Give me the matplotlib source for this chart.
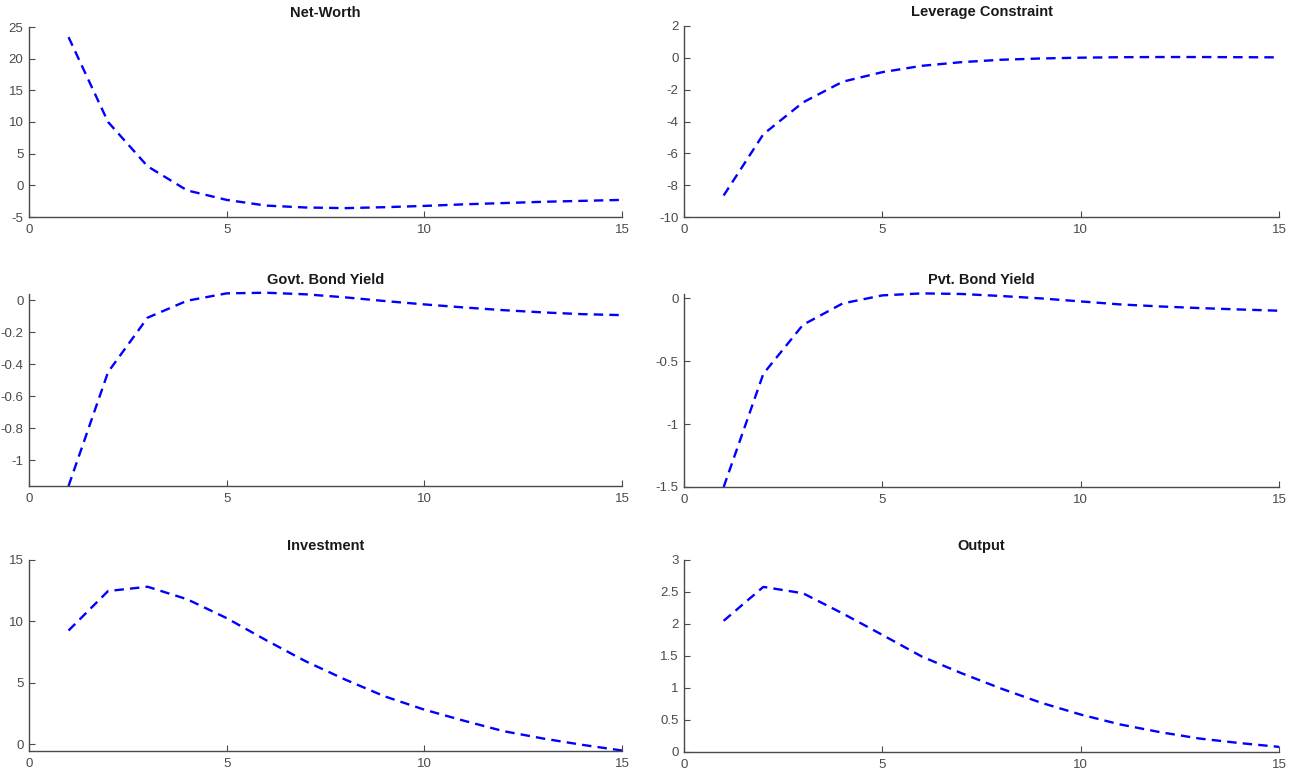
import matplotlib.pyplot as plt

plt.rcParams['font.family'] = ['Liberation Sans', 'DejaVu Sans']

periods = list(range(1, 16))

net_worth = [23.4, 10.0, 3.0, -0.8, -2.3, -3.2, -3.5, -3.6, -3.45, -3.25,
             -3.0, -2.8, -2.6, -2.45, -2.3]
leverage = [-8.65, -4.8, -2.8, -1.5, -0.9, -0.5, -0.27, -0.12, -0.04, 0.01,
            0.04, 0.05, 0.05, 0.04, 0.03]
govt_yield = [-1.162, -0.45, -0.11, -0.004, 0.042, 0.046, 0.036, 0.017, -0.006,
              -0.027, -0.046, -0.063, -0.077, -0.088, -0.094]
pvt_yield = [-1.5, -0.60, -0.21, -0.04, 0.024, 0.04, 0.035, 0.019, 0.0, -0.024,
             -0.048, -0.064, -0.077, -0.088, -0.098]
investment = [9.25, 12.47, 12.82, 11.8, 10.26, 8.46, 6.74, 5.25, 3.88, 2.8,
              1.9, 1.05, 0.45, -0.07, -0.53]
output = [2.05, 2.58, 2.48, 2.165, 1.83, 1.49, 1.23, 0.99, 0.77, 0.585,
          0.43, 0.31, 0.21, 0.14, 0.08]

titles = ['Net-Worth', 'Leverage Constraint', 'Govt. Bond Yield',
          'Pvt. Bond Yield', 'Investment', 'Output']
series = [net_worth, leverage, govt_yield, pvt_yield, investment, output]
ylims = [(-5, 25), (-10, 2), (-1.162, 0.038), (-1.5, 0.035), (-0.57, 15), (0, 3)]
yticks = [[-5, 0, 5, 10, 15, 20, 25],
          [-10, -8, -6, -4, -2, 0, 2],
          [-1, -0.8, -0.6, -0.4, -0.2, 0],
          [-1.5, -1, -0.5, 0],
          [0, 5, 10, 15],
          [0, 0.5, 1, 1.5, 2, 2.5, 3]]
xticks = [0, 5, 10, 15]

W, H = 1289, 773
# axes boxes in pixels: (left, top, right, bottom)
boxes = [(29, 27, 622, 217), (684, 26, 1279, 217),
         (29, 294, 622, 486), (684, 294, 1279, 487),
         (29, 560, 622, 751), (684, 560, 1279, 752)]

fig = plt.figure(figsize=(W / 100, H / 100), dpi=100)
axis_col = '#4a4a4a'

for i in range(6):
    l, t, r, b = boxes[i]
    ax = fig.add_axes([l / W, 1 - b / H, (r - l) / W, (b - t) / H])
    ax.plot(periods, series[i], color='#0000ff', linestyle='--',
            linewidth=1.7, dashes=(4, 2.6), clip_on=False)
    ax.set_xlim(0, 15)
    ax.set_ylim(*ylims[i])
    ax.set_xticks(xticks)
    ax.set_xticklabels([str(v) for v in xticks])
    ax.set_yticks(yticks[i])
    ax.set_yticklabels([f'{v:g}' for v in yticks[i]])
    ax.set_title(titles[i], fontsize=10.5, fontweight='bold', color='#1a1a1a', pad=7)
    for side in ['top', 'right']:
        ax.spines[side].set_visible(False)
    for side in ['left', 'bottom']:
        ax.spines[side].set_color(axis_col)
        ax.spines[side].set_linewidth(1.0)
    ax.tick_params(direction='in', length=4, width=0.8, colors=axis_col,
                   labelsize=9.5, labelcolor=axis_col)
    ax.tick_params(axis='x', pad=5)
    ax.tick_params(axis='y', pad=4)
    ax.patch.set_alpha(0)

fig.savefig('out.png', dpi=100)
